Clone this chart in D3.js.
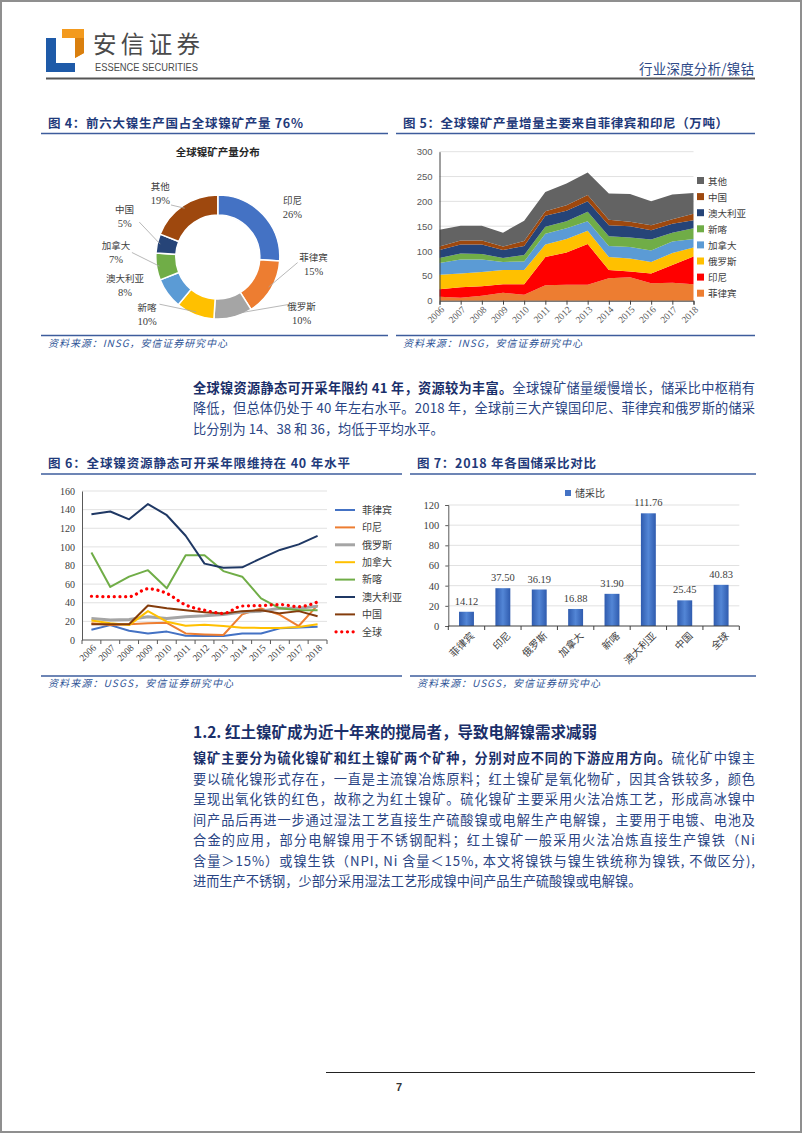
<!DOCTYPE html>
<html><head><meta charset="utf-8">
<script src="https://cdn.jsdelivr.net/npm/d3@7"></script>
<style>body{margin:0;background:#fff}svg{display:block}</style>
</head><body>
<svg id="page" width="802" height="1133"></svg>
<script>
// ---------- DATA ----------
const years = [2006,2007,2008,2009,2010,2011,2012,2013,2014,2015,2016,2017,2018];

// Fig 4: donut
const pieCategories = ["印尼","菲律宾","俄罗斯","新喀","澳大利亚","加拿大","中国","其他"];
const pieShares = [26,15,10,10,8,7,5,19];

// Fig 5: stacked area (万吨)
const areaKeys = ["菲律宾","印尼","俄罗斯","加拿大","新喀","澳大利亚","中国","其他"];
const prodPhilippines = [8,6,10,16,12,31,32,32,45,47,35,36,33];
const prodIndonesia   = [15,21,19,17,21,57,65,82,17,12,20,36,56];
const prodRussia      = [29,28,29,29,29,25,27,27,26,26,23,24,18];
const prodCanada      = [24,28,25,16,17,22,22,19,22,23,23,23,17];
const prodNewCal      = [10,12,11,8,13,14,14,19,20,19,22,18,22];
const prodAustralia   = [16,18,19,16,18,22,21,21,22,23,19,18,16];
const prodChina       = [7,8,8,7,10,9,11,13,11,9,10,9,13];
const prodOther       = [34,30,30,28,41,39,44,45,53,56,48,50,42];
const areaTicks = [0,50,100,150,200,250,300];

// Fig 6: reserve/production ratio lines
const lineKeys = ["菲律宾","印尼","俄罗斯","加拿大","新喀","澳大利亚","中国","全球"];
const rpPhilippines = [11,16,10,7,9,4.5,4.3,4.3,7,7,12.5,13.5,14.12];
const rpIndonesia   = [18,16,17,18,18.5,7,6,5.4,27.5,34,27,15,37.5];
const rpRussia      = [23,21.5,22,25,23,25,26,27.5,30,31,34,34,36.19];
const rpCanada      = [21,18,16,31,19.7,15.4,16.5,15,13.2,13,13,14,16.88];
const rpNewCal      = [94,57,68,75,55.5,91,91,74,68,44.7,34,32,31.9];
const rpAustralia   = [135,138,129.6,146,134,112,82,77.5,78,87.7,96.7,102.7,111.76];
const rpChina       = [17,17,17,37,34,32,29.7,28.5,31,32,28.6,31,25.45];
const rpGlobal      = [47,46.5,46.5,55,50,37.6,32,28.6,36.5,37,38,35.8,40.83];
const lineTicks = [0,20,40,60,80,100,120,140,160];

// Fig 7: bars
const barCategories = ["菲律宾","印尼","俄罗斯","加拿大","新喀","澳大利亚","中国","全球"];
const barValues = [14.12,37.50,36.19,16.88,31.90,111.76,25.45,40.83];
const barTicks = [0,20,40,60,80,100,120];

// ---------- STYLE ----------
const CJK = "'Noto Sans CJK SC','Noto Sans',sans-serif";
const SERIF = "'Liberation Serif','DejaVu Serif',serif";
const SANS = "'Liberation Sans','DejaVu Sans',sans-serif";
const navy = "#1F3A7A", bodyBlue = "#2A4585", ruleBlue = "#3D5C9C", srcBlue = "#2F5597";
const axisText = "#404040", gridC = "#D9D9D9";

const svg = d3.select("#page");
svg.append("rect").attr("x",1).attr("y",1).attr("width",800).attr("height",1131)
  .attr("fill","#fff").attr("stroke","#8f8f8f").attr("stroke-width",2);

function txt(g, x, y, s, o={}) {
  const t = g.append("text").attr("x",x).attr("y",y).text(s)
    .attr("font-family", o.ff || CJK).attr("font-size", o.fs || 12)
    .attr("fill", o.fill || "#000");
  if (o.fw) t.attr("font-weight", o.fw);
  if (o.anchor) t.attr("text-anchor", o.anchor);
  if (o.style) t.attr("font-style", o.style);
  if (o.len) t.attr("textLength", o.len).attr("lengthAdjust", o.adj || "spacing");
  return t;
}

// ---------- HEADER ----------
const hdr = svg.append("g");
hdr.append("path").attr("d","M46,38H56V63H75V72H46Z").attr("fill","#1E5AA8");
hdr.append("path").attr("d","M62,29H84V53L75,58V38H62Z").attr("fill","#F39A1E");
hdr.append("path").attr("d","M75,38H84V53L75,58Z").attr("fill","#D97F0E");
txt(hdr, 93, 53, "安信证券", {fs:23.5, fill:"#4a4a4a", len:107});
txt(hdr, 95, 70.5, "ESSENCE SECURITIES", {ff:SANS, fs:10, fill:"#4a4a4a", len:103, adj:"spacingAndGlyphs"});
txt(hdr, 754, 74, "行业深度分析/镍钴", {fs:13.5, fill:"#2E4A87", anchor:"end", len:115});
hdr.append("line").attr("x1",46).attr("x2",755).attr("y1",78.5).attr("y2",78.5)
  .attr("stroke","#555").attr("stroke-width",1.8);

// ---------- FIGURE FRAMES ----------
function frame(x1, x2, titleY, title, titleEnd, ruleY, srcY, src, srcEnd) {
  txt(svg, x1+7, titleY, title, {fs:12.5, fw:"bold", fill:navy, len:titleEnd-(x1+7)});
  svg.append("line").attr("x1",x1).attr("x2",x2).attr("y1",ruleY).attr("y2",ruleY)
    .attr("stroke",ruleBlue).attr("stroke-width",1.5);
  svg.append("line").attr("x1",x1).attr("x2",x2).attr("y1",srcY).attr("y2",srcY)
    .attr("stroke",ruleBlue).attr("stroke-width",1.5);
  txt(svg, x1+7, srcY+11, src, {fs:10, fill:srcBlue, style:"italic", len:srcEnd-(x1+7)});
}
frame(41, 388, 127.5, "图 4：前六大镍生产国占全球镍矿产量 76%", 303, 133.5, 335.5, "资料来源：INSG，安信证券研究中心", 227);
frame(396, 755, 127.5, "图 5：全球镍矿产量增量主要来自菲律宾和印尼（万吨）", 728, 133.5, 335.5, "资料来源：INSG，安信证券研究中心", 582);
frame(41, 402, 468, "图 6：全球镍资源静态可开采年限维持在 40 年水平", 350, 474, 676, "资料来源：USGS，安信证券研究中心", 233);
frame(410, 756, 468, "图 7：2018 年各国储采比对比", 596, 474, 676, "资料来源：USGS，安信证券研究中心", 600);

// ---------- FIG 4: DONUT ----------
const pieColors = ["#4472C4","#ED7D31","#A5A5A5","#FFC000","#5B9BD5","#70AD47","#264478","#9E480E"];
const cx = 217.8, cy = 257, rOut = 62, rIn = 42;
txt(svg, cx, 156, "全球镍矿产量分布", {fs:10.5, fw:"bold", fill:"#262626", anchor:"middle"});
const pieData = d3.pie().sort(null).value(d=>d)(pieShares);
const arc = d3.arc().innerRadius(rIn).outerRadius(rOut);
const pg = svg.append("g").attr("transform",`translate(${cx},${cy})`);
pg.selectAll("path").data(pieData).join("path").attr("d",arc)
  .attr("fill",(d,i)=>pieColors[i]).attr("stroke","#fff").attr("stroke-width",1.5);
const labAng = [56, 94, 124, 231, 253, 273, 294, 318];
const labR   = [90, 96, 101, 91, 97, 102, 102, 86];
const leader = [false,true,true,true,false,true,true,true];
pieData.forEach((d,i)=>{
  const a = labAng[i]*Math.PI/180, r = labR[i];
  const lx = r*Math.sin(a), ly = -r*Math.cos(a);
  if (leader[i]) {
    const m = (d.startAngle+d.endAngle)/2;
    const r2 = r-16;
    pg.append("line").attr("x1", r2*Math.sin(a)).attr("y1", -r2*Math.cos(a))
      .attr("x2", (rOut-3)*Math.sin(m)).attr("y2", -(rOut-3)*Math.cos(m))
      .attr("stroke","#A6A6A6").attr("stroke-width",0.8);
  }
  txt(pg, lx, ly-3, pieCategories[i], {fs:9.5, fill:axisText, anchor:"middle"});
  txt(pg, lx, ly+11, pieShares[i]+"%", {ff:SERIF, fs:10.5, fill:axisText, anchor:"middle"});
});

// ---------- FIG 5: STACKED AREA ----------
const areaColors = ["#ED7D31","#FF0000","#FFC000","#5B9BD5","#70AD47","#264478","#9E480E","#636363"];
const areaArrays = [prodPhilippines,prodIndonesia,prodRussia,prodCanada,prodNewCal,prodAustralia,prodChina,prodOther];
const areaRows = years.map((y,i)=>{ const o={year:y}; areaKeys.forEach((k,j)=>o[k]=areaArrays[j][i]); return o; });
const xA = d3.scalePoint().domain(years).range([439.5, 693.5]);
const yA = d3.scaleLinear().domain([0,300]).range([300.7,151.7]);
const ag = svg.append("g");
ag.selectAll("line.g").data(areaTicks.slice(1)).join("line")
  .attr("x1",439.5).attr("x2",693.5).attr("y1",d=>yA(d)).attr("y2",d=>yA(d))
  .attr("stroke",gridC).attr("stroke-width",0.8);
const stacked = d3.stack().keys(areaKeys)(areaRows);
const areaGen = d3.area().x(d=>xA(d.data.year)).y0(d=>yA(d[0])).y1(d=>yA(d[1]));
ag.selectAll("path.a").data(stacked).join("path").attr("d",areaGen)
  .attr("fill",(d,i)=>areaColors[i]);
const yAxisA = ag.append("g").attr("transform","translate(439.5,0)")
  .call(d3.axisLeft(yA).tickValues(areaTicks).tickSize(0).tickPadding(7));
yAxisA.select(".domain").attr("stroke","#404040").attr("stroke-width",1);
yAxisA.selectAll("text").attr("font-family",SANS).attr("font-size",9.5).attr("fill","#595959");
const xAxisA = ag.append("g").attr("transform",`translate(0,${yA(0)})`)
  .call(d3.axisBottom(xA).tickSize(4).tickFormat(""));
xAxisA.select(".domain").attr("stroke","#404040");
xAxisA.selectAll(".tick line").attr("stroke","#404040");
years.forEach(y=>{
  ag.append("text").text(y).attr("transform",`translate(${xA(y)+3},${yA(0)+7}) rotate(-45)`)
    .attr("text-anchor","end").attr("dy","0.35em").attr("font-family",SERIF)
    .attr("font-size",9.5).attr("fill","#595959");
});
areaKeys.slice().reverse().forEach((k,i)=>{
  const idx = areaKeys.length-1-i;
  const ly = 181 + i*16.1;
  ag.append("rect").attr("x",697).attr("y",ly-4).attr("width",7).attr("height",7).attr("fill",areaColors[idx]);
  txt(ag, 708, ly+3.5, k, {fs:9.5, fill:axisText});
});

// ---------- FIG 6: LINES ----------
const lineColors = ["#4472C4","#ED7D31","#A5A5A5","#FFC000","#70AD47","#1F3864","#843C0C","#FF0000"];
const lineWidths = [2,2,3,2,2,2,2,3.2];
const lineArrays = [rpPhilippines,rpIndonesia,rpRussia,rpCanada,rpNewCal,rpAustralia,rpChina,rpGlobal];
const xL = d3.scaleBand().domain(years).range([82, 327]);
const yL = d3.scaleLinear().domain([0,160]).range([640,491]);
const lg = svg.append("g");
lg.selectAll("line.g").data(lineTicks.slice(1)).join("line")
  .attr("x1",82).attr("x2",327).attr("y1",d=>yL(d)).attr("y2",d=>yL(d))
  .attr("stroke",gridC).attr("stroke-width",0.8);
const yAxisL = lg.append("g").attr("transform","translate(82,0)")
  .call(d3.axisLeft(yL).tickValues(lineTicks).tickSize(0).tickPadding(7));
yAxisL.select(".domain").attr("stroke","#595959");
yAxisL.selectAll("text").attr("font-family",SERIF).attr("font-size",10).attr("fill",axisText);
lg.append("line").attr("x1",82).attr("x2",327).attr("y1",640).attr("y2",640).attr("stroke","#595959");
lg.selectAll("line.t").data(years.concat(["end"])).join("line")
  .attr("x1",(d,i)=>82+i*xL.step()).attr("x2",(d,i)=>82+i*xL.step())
  .attr("y1",640).attr("y2",644).attr("stroke","#595959");
years.forEach(y=>{
  lg.append("text").text(y).attr("transform",`translate(${xL(y)+xL.bandwidth()/2+3},${646}) rotate(-45)`)
    .attr("text-anchor","end").attr("dy","0.35em").attr("font-family",SERIF)
    .attr("font-size",9.5).attr("fill",axisText);
});
lineArrays.forEach((arr,i)=>{
  const isGlobal = lineKeys[i]==="全球";
  const gen = d3.line().x((d,j)=>xL(years[j])+xL.bandwidth()/2).y(d=>yL(d))
    .curve(isGlobal ? d3.curveMonotoneX : d3.curveLinear);
  const p = lg.append("path").attr("d",gen(arr)).attr("fill","none")
    .attr("stroke",lineColors[i]).attr("stroke-width",lineWidths[i]).attr("stroke-linejoin","round");
  if (isGlobal) p.attr("stroke-dasharray","0.1 5.6").attr("stroke-linecap","round");
});
lineKeys.forEach((k,i)=>{
  const ly = 510 + i*17.4;
  const l = lg.append("line").attr("x1",335).attr("x2",355).attr("y1",ly).attr("y2",ly)
    .attr("stroke",lineColors[i]).attr("stroke-width",lineWidths[i]);
  if (k==="全球") l.attr("stroke-dasharray","0.1 5.6").attr("stroke-linecap","round").attr("x1",336);
  txt(lg, 362, ly+3.8, k, {fs:10, fill:axisText});
});

// ---------- FIG 7: BARS ----------
const defs = svg.append("defs");
const grad = defs.append("linearGradient").attr("id","barGrad").attr("x1","0").attr("x2","1").attr("y1","0").attr("y2","0");
grad.append("stop").attr("offset","0%").attr("stop-color","#2F5BAE");
grad.append("stop").attr("offset","50%").attr("stop-color","#5386D6");
grad.append("stop").attr("offset","100%").attr("stop-color","#2F5BAE");
const xB = d3.scaleBand().domain(barCategories).range([448.3, 739.3]).paddingInner(0.59).paddingOuter(0.295);
const yB = d3.scaleLinear().domain([0,120]).range([626,505]);
const bg = svg.append("g");
bg.selectAll("line.g").data(barTicks.slice(1)).join("line")
  .attr("x1",448.3).attr("x2",739.3).attr("y1",d=>yB(d)).attr("y2",d=>yB(d))
  .attr("stroke",gridC).attr("stroke-width",0.8);
const yAxisB = bg.append("g").attr("transform","translate(448.3,0)")
  .call(d3.axisLeft(yB).tickValues(barTicks).tickSize(3).tickPadding(6));
yAxisB.select(".domain").attr("stroke","#595959");
yAxisB.selectAll(".tick line").attr("stroke","#595959");
yAxisB.selectAll("text").attr("font-family",SERIF).attr("font-size",10.5).attr("fill",axisText);
bg.selectAll("rect.b").data(barValues).join("rect")
  .attr("x",(d,i)=>xB(barCategories[i])).attr("width",xB.bandwidth())
  .attr("y",d=>yB(d)).attr("height",d=>yB(0)-yB(d)).attr("fill","url(#barGrad)");
bg.selectAll("text.v").data(barValues).join("text")
  .attr("x",(d,i)=>xB(barCategories[i])+xB.bandwidth()/2).attr("y",d=>yB(d)-7)
  .attr("text-anchor","middle").text(d=>d.toFixed(2))
  .attr("font-family",SERIF).attr("font-size",10.5).attr("fill",axisText);
bg.append("line").attr("x1",448.3).attr("x2",739.3).attr("y1",626).attr("y2",626).attr("stroke","#404040");
bg.selectAll("line.t").data(barCategories.concat(["end"])).join("line")
  .attr("x1",(d,i)=>448.3+i*xB.step()).attr("x2",(d,i)=>448.3+i*xB.step())
  .attr("y1",626).attr("y2",630).attr("stroke","#404040");
barCategories.forEach(c=>{
  bg.append("text").text(c).attr("transform",`translate(${xB(c)+xB.bandwidth()/2+6},${634}) rotate(-45)`)
    .attr("text-anchor","end").attr("dy","0.35em").attr("font-family",CJK)
    .attr("font-size",10).attr("fill",axisText);
});
bg.append("rect").attr("x",565).attr("y",490).attr("width",6).attr("height",6).attr("fill","#4472C4");
txt(bg, 575, 497, "储采比", {fs:10, fill:axisText});

// ---------- BODY TEXT ----------
const bodyX = 193, bodyRight = 755;
function para(lines, y0, dy) {
  lines.forEach((parts,i)=>{
    const t = svg.append("text").attr("x",bodyX).attr("y",y0+i*dy)
      .attr("font-family",CJK).attr("font-size",13.2).attr("fill",bodyBlue);
    parts.forEach(([s,b])=>{
      const ts = t.append("tspan").text(s);
      if (b) ts.attr("font-weight","bold").attr("fill","#1A2F6A");
    });
    if (i < lines.length-1) t.attr("textLength", bodyRight-bodyX).attr("lengthAdjust","spacing");
  });
}
para([
  [["全球镍资源静态可开采年限约 41 年，资源较为丰富。",true],["全球镍矿储量缓慢增长，储采比中枢稍有",false]],
  [["降低，但总体仍处于 40 年左右水平。2018 年，全球前三大产镍国印尼、菲律宾和俄罗斯的储采",false]],
  [["比分别为 14、38 和 36，均低于平均水平。",false]]
], 392.5, 20.7);

txt(svg, bodyX, 738, "1.2. 红土镍矿成为近十年来的搅局者，导致电解镍需求减弱", {fs:15.5, fw:"bold", fill:"#1A2F6A"});

para([
  [["镍矿主要分为硫化镍矿和红土镍矿两个矿种，分别对应不同的下游应用方向。",true],["硫化矿中镍主",false]],
  [["要以硫化镍形式存在，一直是主流镍冶炼原料；红土镍矿是氧化物矿，因其含铁较多，颜色",false]],
  [["呈现出氧化铁的红色，故称之为红土镍矿。硫化镍矿主要采用火法冶炼工艺，形成高冰镍中",false]],
  [["间产品后再进一步通过湿法工艺直接生产硫酸镍或电解生产电解镍，主要用于电镀、电池及",false]],
  [["合金的应用，部分电解镍用于不锈钢配料；红土镍矿一般采用火法冶炼直接生产镍铁（Ni",false]],
  [["含量＞15%）或镍生铁（NPI, Ni 含量＜15%, 本文将镍铁与镍生铁统称为镍铁, 不做区分),",false]],
  [["进而生产不锈钢，少部分采用湿法工艺形成镍中间产品生产硫酸镍或电解镍。",false]]
], 763, 20.5);

// ---------- FOOTER ----------
svg.append("line").attr("x1",326).attr("x2",755).attr("y1",1072.5).attr("y2",1072.5)
  .attr("stroke","#222").attr("stroke-width",1.2);
txt(svg, 399, 1091, "7", {ff:SANS, fs:11, fw:"bold", fill:"#333", anchor:"middle"});
</script>
</body></html>
